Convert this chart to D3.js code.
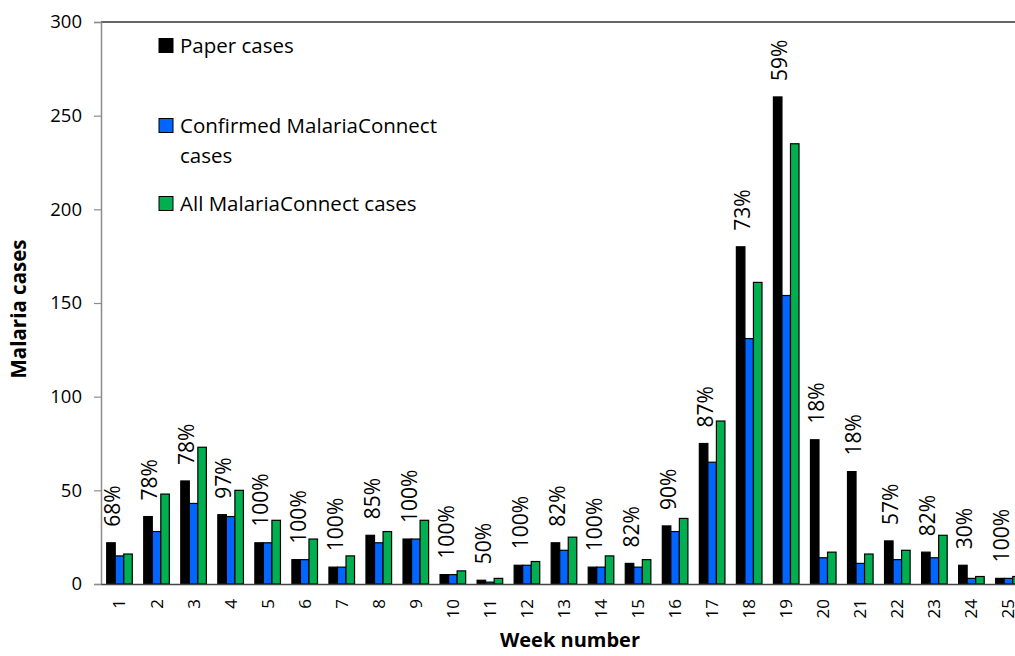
<!DOCTYPE html>
<html>
<head>
<meta charset="utf-8">
<script src="https://cdn.jsdelivr.net/npm/d3@7/dist/d3.min.js"></script>
<style>
  body { margin: 0; background: #fff; }
  svg { display: block; font-family: "Open Sans", sans-serif; }
</style>
</head>
<body>
<div id="grafico"></div>
<script>
const semanas = d3.range(1, 26).map(String);
const casosPapel = [22, 36, 55, 37, 22, 13, 9, 26, 24, 5, 2, 10, 22, 9, 11, 31, 75, 180, 260, 77, 60, 23, 17, 10, 3];
const casosConfirmados = [15, 28, 43, 36, 22, 13, 9, 22, 24, 5, 1, 10, 18, 9, 9, 28, 65, 131, 154, 14, 11, 13, 14, 3, 3];
const casosTodos = [16, 48, 73, 50, 34, 24, 15, 28, 34, 7, 3, 12, 25, 15, 13, 35, 87, 161, 235, 17, 16, 18, 26, 4, 4];
const porcentajes = ["68%", "78%", "78%", "97%", "100%", "100%", "100%", "85%", "100%", "100%", "50%", "100%", "82%",
  "100%", "82%", "90%", "87%", "73%", "59%", "18%", "18%", "57%", "82%", "30%", "100%"];
const ticksY = [0, 50, 100, 150, 200, 250, 300];
const series = ["Paper cases", "Confirmed MalariaConnect cases", "All MalariaConnect cases"];
const colores = ["#000000", "#0066ff", "#00b050"];

const ancho = 1015, alto = 656;
const izq = 101, arriba = 22, abajo = 584;
const anchoBanda = 37.04;

const $svg = d3.select("#grafico").append("svg")
  .attr("width", ancho)
  .attr("height", alto);

const x = d3.scaleBand()
  .domain(semanas)
  .range([izq, izq + anchoBanda * semanas.length]);

const xInterno = d3.scaleBand()
  .domain(series)
  .range([5.7, 31.3]);

const y = d3.scaleLinear()
  .domain([0, 300])
  .range([abajo, arriba]);

// borde superior
$svg.append("line")
  .attr("x1", izq).attr("x2", ancho)
  .attr("y1", arriba).attr("y2", arriba)
  .attr("stroke", "#333").attr("stroke-width", 1.5);

const datos = semanas.map((s, i) => ({
  semana: s,
  valores: [casosPapel[i], casosConfirmados[i], casosTodos[i]]
}));

const grupos = $svg.append("g").selectAll("g")
  .data(datos)
  .join("g")
  .attr("transform", d => `translate(${x(d.semana)},0)`);

grupos.selectAll("rect")
  .data(d => d.valores.map((v, j) => ({ serie: series[j], valor: v, color: colores[j] })))
  .join("rect")
  .attr("x", d => xInterno(d.serie))
  .attr("width", xInterno.bandwidth())
  .attr("y", d => y(d.valor))
  .attr("height", d => abajo - y(d.valor))
  .attr("fill", d => d.color)
  .attr("stroke", "#000")
  .attr("stroke-width", 1.2);

// porcentajes sobre la barra de papel
$svg.append("g").selectAll("text")
  .data(datos)
  .join("text")
  .attr("transform", (d, i) => {
    const cx = x(d.semana) + xInterno(series[0]) + xInterno.bandwidth() / 2 + 2;
    return `translate(${cx},${y(casosPapel[i]) - 16}) rotate(-90)`;
  })
  .attr("dy", "0.35em")
  .attr("font-size", 21)
  .attr("fill", "#000")
  .text((d, i) => porcentajes[i]);

// eje Y
const ejeY = $svg.append("g")
  .attr("transform", `translate(${izq},0)`)
  .call(d3.axisLeft(y).tickValues(ticksY).tickSize(7).tickPadding(12));
ejeY.select(".domain").attr("stroke", "#8c8c8c").attr("stroke-width", 1.5);
ejeY.selectAll(".tick line").attr("stroke", "#8c8c8c").attr("stroke-width", 1.2);
ejeY.selectAll(".tick text").attr("font-size", 18.5).attr("fill", "#000")
  .attr("font-family", "Open Sans, sans-serif");

// eje X
const ejeX = $svg.append("g")
  .attr("transform", `translate(0,${abajo})`)
  .call(d3.axisBottom(x).tickSize(0).tickPadding(0));
ejeX.select(".domain").attr("stroke", "#444").attr("stroke-width", 1.5);
ejeX.selectAll(".tick text")
  .attr("font-size", 17)
  .attr("fill", "#000")
  .attr("font-family", "Open Sans, sans-serif")
  .attr("transform", "translate(0,15) rotate(-90)")
  .attr("text-anchor", "end")
  .attr("x", 0)
  .attr("y", 0)
  .attr("dy", "0.35em");

// títulos de ejes
$svg.append("text")
  .attr("x", 570).attr("y", 647)
  .attr("text-anchor", "middle")
  .attr("font-size", 20)
  .attr("font-weight", "bold")
  .text("Week number");

$svg.append("text")
  .attr("transform", "translate(19,309) rotate(-90)")
  .attr("text-anchor", "middle")
  .attr("dy", "0.35em")
  .attr("font-size", 20.5)
  .attr("font-weight", "bold")
  .text("Malaria cases");

// leyenda
const leyenda = [
  { color: colores[0], lineas: ["Paper cases"], y: 46 },
  { color: colores[1], lineas: ["Confirmed MalariaConnect", "cases"], y: 126 },
  { color: colores[2], lineas: ["All MalariaConnect cases"], y: 204 }
];
const $ley = $svg.append("g");
leyenda.forEach(l => {
  $ley.append("rect")
    .attr("x", 159).attr("y", l.y - 7.5)
    .attr("width", 14).attr("height", 14)
    .attr("fill", l.color)
    .attr("stroke", "#000").attr("stroke-width", 1);
  l.lineas.forEach((t, k) => {
    $ley.append("text")
      .attr("x", 180).attr("y", l.y + k * 30)
      .attr("dy", "0.35em")
      .attr("font-size", 20.5)
      .text(t);
  });
});
</script>
</body>
</html>
